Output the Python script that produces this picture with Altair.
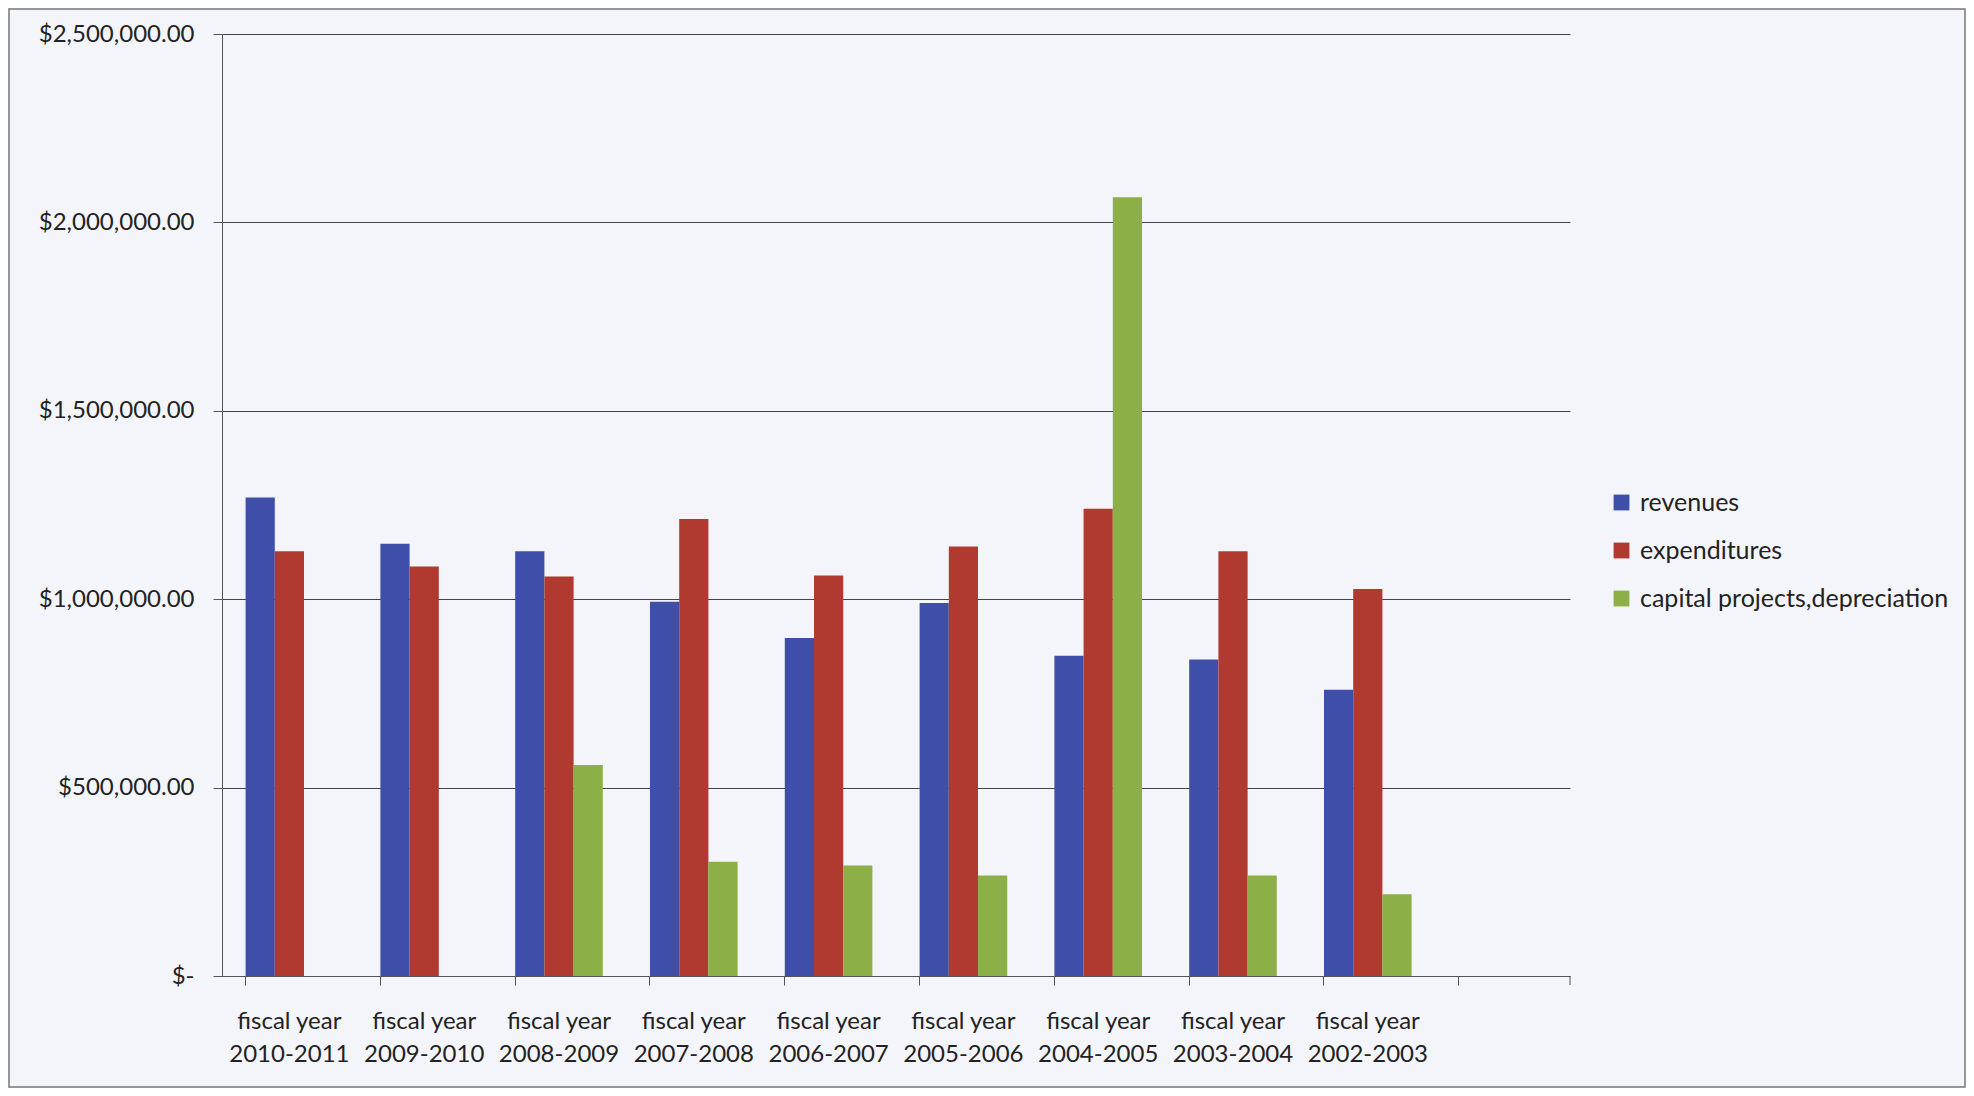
import altair as alt
import pandas as pd

years = ["2010-2011", "2009-2010", "2008-2009", "2007-2008", "2006-2007",
         "2005-2006", "2004-2005", "2003-2004", "2002-2003"]
revenues = [1270000, 1147000, 1127000, 993000, 897000, 990000, 850000, 840000, 760000]
expenditures = [1127000, 1087000, 1060000, 1213000, 1063000, 1140000, 1240000, 1127000, 1027000]
capital = [None, None, 560000, 303000, 293000, 267000, 2067000, 267000, 217000]

series = ["revenues", "expenditures", "capital projects,depreciation"]
colors = ["#3F4EA8", "#B03A30", "#8DAF48"]
y_ticks = [0, 500000, 1000000, 1500000, 2000000, 2500000]

rows = []
for i, yr in enumerate(years):
    for s, vals in zip(series, [revenues, expenditures, capital]):
        if vals[i] is not None:
            rows.append({"year": yr, "series": s, "value": vals[i]})
df = pd.DataFrame(rows)

x_domain = years + [" "]
W, H = 1348, 942
FONT = "Lato"

bars = alt.Chart(df).mark_bar().encode(
    x=alt.X("year:N", sort=x_domain,
            scale=alt.Scale(domain=x_domain, paddingInner=0.35, paddingOuter=0.175),
            axis=alt.Axis(title=None, labelAngle=0, bandPosition=0, ticks=True, tickSize=9,
                          tickColor="#555", domainColor="#555", grid=False,
                          labelExpr="datum.value == ' ' ? '' : ['fiscal year', datum.value]",
                          labelFont=FONT, labelFontSize=24, labelColor="#222",
                          labelLineHeight=33, labelPadding=24, labelBaseline="top")),
    xOffset=alt.XOffset("series:N", sort=series, scale=alt.Scale(domain=series, paddingInner=0, paddingOuter=0)),
    y=alt.Y("value:Q", scale=alt.Scale(domain=[0, 2500000], nice=False),
            axis=alt.Axis(title=None, values=y_ticks, grid=True, gridColor="#444", gridWidth=1,
                          gridOpacity=1, tickSize=9, tickColor="#555", domainColor="#555",
                          labelExpr="datum.value == 0 ? '$-\u00a0\u00a0' : '$' + format(datum.value, ',.2f')",
                          labelFont=FONT, labelFontSize=24, labelColor="#222", labelPadding=19)),
    color=alt.Color("series:N", sort=series,
                    scale=alt.Scale(domain=series, range=colors),
                    legend=alt.Legend(title=None, orient="none", legendX=1387, legendY=456,
                                      symbolType="square", symbolSize=250, symbolStrokeWidth=0,
                                      labelFont=FONT, labelFontSize=25, labelColor="#222",
                                      labelLimit=600, labelOffset=6, rowPadding=22)),
)

end_tick = alt.Chart(pd.DataFrame({"v": [0]})).mark_rule(color="#555").encode(
    x=alt.value(W), y=alt.value(H), y2=alt.value(H + 9)
)

border = alt.Chart(pd.DataFrame({"v": [0]})).mark_rect(
    fill=None, stroke="#777", strokeWidth=1.5, clip=False
).encode(
    x=alt.value(-213), x2=alt.value(W + 395), y=alt.value(-25), y2=alt.value(H + 111)
)

chart = alt.layer(bars, end_tick, border).properties(
    width=W, height=H,
    autosize=alt.AutoSizeParams(type="none"),
    padding={"left": 214, "top": 26, "right": 396, "bottom": 112},
    background="#F4F5FA",
).configure_view(stroke=None)

chart.save("out.html", embed_options={"renderer": "svg", "actions": False})
